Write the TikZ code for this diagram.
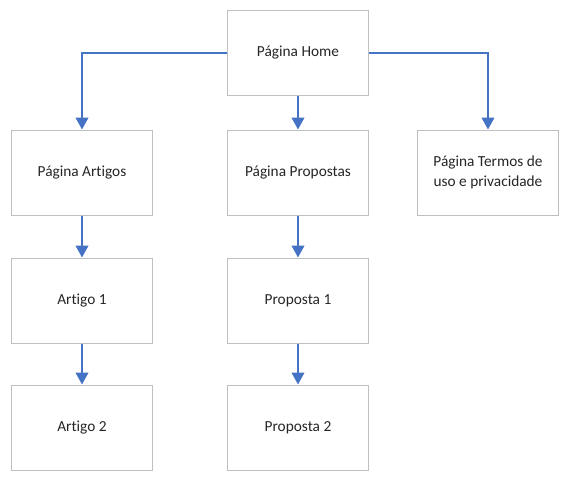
\documentclass[tikz,border=0pt]{standalone}
\usepackage{fontspec}
\setmainfont{Carlito}[Ligatures=NoCommon]
\usetikzlibrary{arrows.meta}
\definecolor{linkblue}{HTML}{4472C4}
\definecolor{boxgray}{HTML}{BFBFBF}
\tikzset{
  pagebox/.style={draw=boxgray, line width=0.75pt, fill=white, minimum width=105.75pt, minimum height=63.75pt, inner sep=0pt, align=center, font=\fontsize{11.5}{14.5}\selectfont, text=black!85},
  link/.style={draw=linkblue, line width=1.5pt, -{Triangle[width=9.5pt,length=9pt]}}
}
\begin{document}
\begin{tikzpicture}[x=0.75pt,y=-0.75pt]
\useasboundingbox (0,0) rectangle (570,480);
\node[pagebox] (home) at (298,53) {Página Home};
\node[pagebox] (artigos) at (82,172.5) {Página Artigos};
\node[pagebox] (propostas) at (298,172.5) {Página Propostas};
\node[pagebox] (termos) at (488,172.5) {Página Termos de\\uso e privacidade};
\node[pagebox] (artigo1) at (82,300.5) {Artigo 1};
\node[pagebox] (proposta1) at (298,300.5) {Proposta 1};
\node[pagebox] (artigo2) at (82,427.5) {Artigo 2};
\node[pagebox] (proposta2) at (298,427.5) {Proposta 2};
\draw[link] (home.west) -| (artigos.north);
\draw[link] (home.east) -| (termos.north);
\draw[link] (home.south) -- (propostas.north);
\draw[link] (artigos.south) -- (artigo1.north);
\draw[link] (artigo1.south) -- (artigo2.north);
\draw[link] (propostas.south) -- (proposta1.north);
\draw[link] (proposta1.south) -- (proposta2.north);
\end{tikzpicture}
\end{document}
